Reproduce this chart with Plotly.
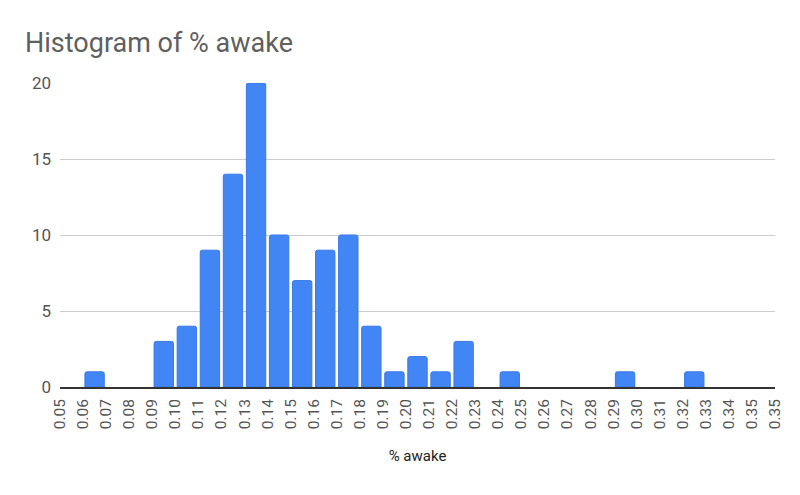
import plotly.graph_objects as go

# Bin edge labels (as shown on the axis) and counts per bin
edge_labels = ["0.05", "0.06", "0.07", "0.08", "0.09", "0.10", "0.11", "0.12", "0.13",
               "0.14", "0.15", "0.16", "0.17", "0.18", "0.19", "0.20", "0.21", "0.22",
               "0.23", "0.24", "0.25", "0.26", "0.27", "0.28", "0.29", "0.30", "0.31",
               "0.32", "0.33", "0.34", "0.35", "0.35"]
counts = [0, 1, 0, 0, 3, 4, 9, 14, 20, 10, 7, 9, 10, 4, 1, 2, 1, 3, 0, 1,
          0, 0, 0, 0, 1, 0, 0, 1, 0, 0, 0]

centers = [i + 0.5 for i in range(len(counts))]
edges = list(range(len(edge_labels)))
line_widths = [1 if c > 0 else 0 for c in counts]

fig = go.Figure(go.Bar(
    x=centers, y=counts, width=0.84,
    marker=dict(color="#4285F4", line=dict(color="#3b78e7", width=line_widths)),
    hoverinfo="y",
))

# page body has an 8px margin, so the figure is sized/offset to compensate
fig.update_layout(
    width=792, height=487,
    margin=dict(l=52, r=25, t=75, b=108),
    paper_bgcolor="white", plot_bgcolor="white",
    font=dict(family="Roboto", color="#555555"),
    barcornerradius=2,
    title=dict(text="Histogram of % awake", x=0.0215, xanchor="left", y=0.930, yanchor="middle",
               font=dict(family="Roboto", size=27, color="#5f5f5f")),
    showlegend=False,
)
fig.update_xaxes(
    range=[0, len(edge_labels) - 1],
    tickmode="array", tickvals=edges, ticktext=edge_labels,
    tickangle=-90, tickfont=dict(size=15.5, color="#555555"),
    showgrid=False, zeroline=False, automargin=False,
    showline=True, linecolor="#333333", linewidth=1.5,
    ticks="", ticklabelstandoff=4,
    title=dict(text="% awake", font=dict(size=15, color="#222222"), standoff=22),
)
fig.update_yaxes(
    range=[0, 20], tickvals=[0, 5, 10, 15, 20],
    tickfont=dict(size=17, color="#555555"),
    showgrid=True, gridcolor="#cccccc", gridwidth=1, automargin=False,
    zeroline=False, showline=False, ticks="", ticklabelstandoff=8,
)

fig.write_html("out.html")
